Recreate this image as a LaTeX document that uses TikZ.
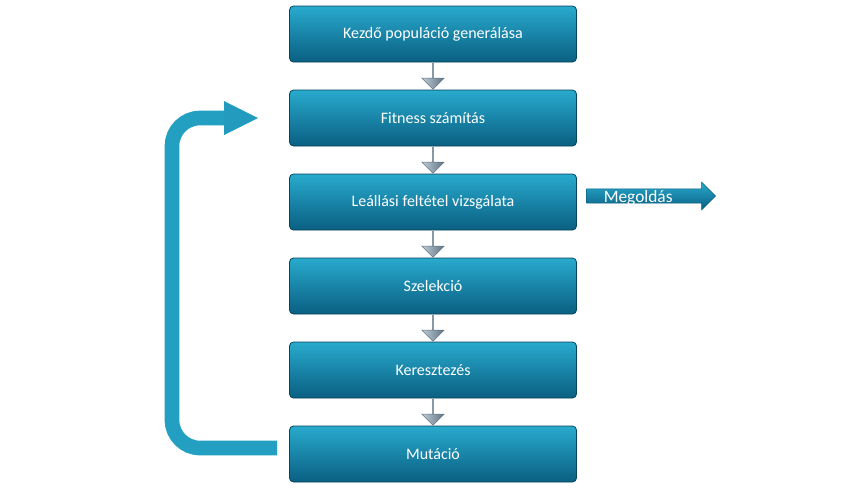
\documentclass[tikz,border=0pt]{standalone}
\usepackage{fontspec}
\setmainfont{Carlito}
\usetikzlibrary{shapes.arrows,calc}
\definecolor{tealA}{RGB}{40,170,205}
\definecolor{tealB}{RGB}{10,95,130}
\definecolor{grayA}{RGB}{190,205,215}
\definecolor{grayB}{RGB}{95,115,130}
\tikzset{
  stepbox/.style={draw=tealB!70!black, line width=0.6pt, rounded corners=3pt, top color=tealA, bottom color=tealB, minimum width=287*0.75pt, minimum height=56*0.75pt, text=white, font=\fontsize{12}{14}\selectfont},
  downarr/.style={single arrow, single arrow head extend=7.5pt, shape border rotate=270, draw=grayB, left color=grayA, right color=grayB, minimum width=22*0.75pt, minimum height=26*0.75pt, inner sep=0pt}
}
\begin{document}
\begin{tikzpicture}[x=0.75pt,y=-0.75pt]
\useasboundingbox (0,0) rectangle (866,493);
\node[stepbox] (b1) at (433,34) {Kezdő populáció generálása};
\node[stepbox] (b2) at (433,118) {Fitness számítás};
\node[stepbox] (b3) at (433,202) {Leállási feltétel vizsgálata};
\node[stepbox] (b4) at (433,286) {Szelekció};
\node[stepbox] (b5) at (433,370) {Keresztezés};
\node[stepbox] (b6) at (433,454) {Mutáció};
\foreach \a/\b in {b1/b2,b2/b3,b3/b4,b4/b5,b5/b6}{
  \node[downarr] at ($(\a.south)!0.5!(\b.north)$) {};
}
\node[single arrow, single arrow head extend=4.5pt, top color=tealA, bottom color=tealB, draw=tealB, minimum height=129*0.75pt, minimum width=28*0.75pt, inner sep=0pt, text=white, font=\fontsize{13}{15}\selectfont, text depth=0pt, align=left] (mo) at (647.5,196) {\hspace*{-14pt}Megoldás};
\coordinate (lp) at (225,118);
\draw[tealA!85!tealB, line width=11pt] (277,448) -- (200,448) arc[start angle=90, end angle=180, radius=28] -- (172,146) arc[start angle=180, end angle=270, radius=28] -- (lp);
\fill[tealA!80!tealB] (224,101) -- (258,118) -- (224,135) -- cycle;
\end{tikzpicture}
\end{document}
